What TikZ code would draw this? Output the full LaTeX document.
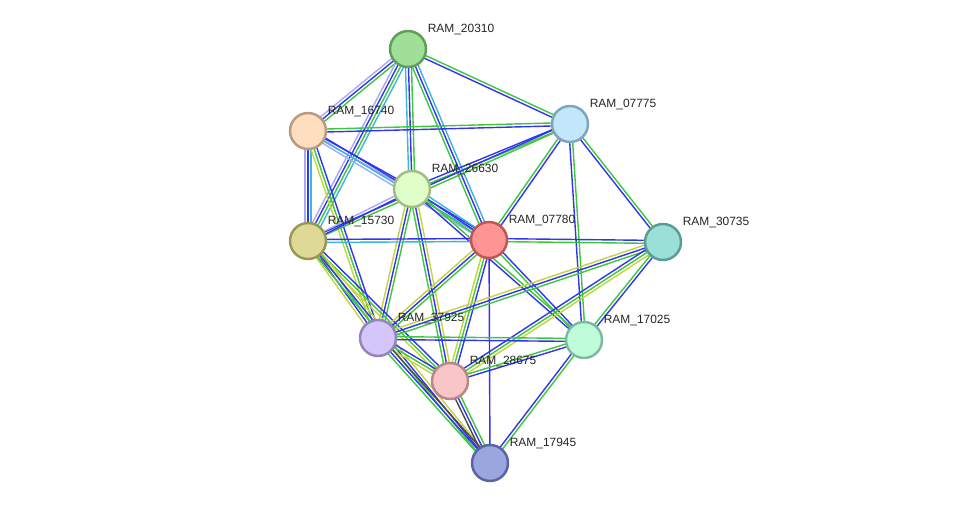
\documentclass[tikz,border=0pt]{standalone}
\usepackage{fontspec}
\setmainfont{Liberation Sans}
\usepackage{xcolor}
\usetikzlibrary{calc,backgrounds}
% evidence colours
\definecolor{nbhd} {HTML}{3CC83C}
\definecolor{cooc} {HTML}{3434F0}
\definecolor{dbase}{HTML}{3CB4DC}
\definecolor{tmine}{HTML}{C4D43C}
\definecolor{coex} {HTML}{4A4A4A}
\definecolor{homol}{HTML}{A8A8F4}
% node colours
\definecolor{f20310}{HTML}{9FDF98} \definecolor{d20310}{HTML}{5E9E58}
\definecolor{f16740}{HTML}{FFDDBF} \definecolor{d16740}{HTML}{B89A80}
\definecolor{f07775}{HTML}{C2E6FA} \definecolor{d07775}{HTML}{7EA4BE}
\definecolor{f26630}{HTML}{E0FEC8} \definecolor{d26630}{HTML}{A0BE84}
\definecolor{f15730}{HTML}{DEDA96} \definecolor{d15730}{HTML}{9A9658}
\definecolor{f07780}{HTML}{FF9494} \definecolor{d07780}{HTML}{BE5656}
\definecolor{f30735}{HTML}{9AE0D6} \definecolor{d30735}{HTML}{5A9C94}
\definecolor{f37925}{HTML}{D4C6FA} \definecolor{d37925}{HTML}{9484BC}
\definecolor{f17025}{HTML}{BEFCDA} \definecolor{d17025}{HTML}{80BA9E}
\definecolor{f28675}{HTML}{F8C6C6} \definecolor{d28675}{HTML}{B88888}
\definecolor{f17945}{HTML}{9AA6DE} \definecolor{d17945}{HTML}{5A64A0}
% parallel evidence lines between two nodes
\newcommand{\lnk}[3]{%
  \foreach \c [count=\i] in {#3} {\xdef\lnkn{\i}}%
  \foreach \c [count=\i] in {#3} {%
    \pgfmathsetlengthmacro\lnkoff{(\i-(\lnkn+1)/2)*1.7pt}%
    \draw[edge, \c] ($(#1.center)!\lnkoff!90:(#2.center)$) -- ($(#2.center)!\lnkoff!-90:(#1.center)$);
  }}

\begin{document}
\begin{tikzpicture}[x=0.02cm, y=-0.02cm,
  prot/.style={circle, minimum size=0.72cm, inner sep=0pt, line width=1.4pt},
  lbl/.style={font=\fontsize{6.8}{8}\selectfont, text=black!85, label distance=0pt, yshift=-0.11cm},
  edge/.style={line width=0.8pt}]
 \useasboundingbox (0,0) rectangle (976,509);
 \node[prot, fill=f20310, draw=d20310, label={[lbl]above right:RAM\_20310}] (n20310) at (408,49)  {};
 \node[prot, fill=f16740, draw=d16740, label={[lbl]above right:RAM\_16740}] (n16740) at (308,131) {};
 \node[prot, fill=f07775, draw=d07775, label={[lbl]above right:RAM\_07775}] (n07775) at (570,124) {};
 \node[prot, fill=f26630, draw=d26630, label={[lbl]above right:RAM\_26630}] (n26630) at (412,189) {};
 \node[prot, fill=f15730, draw=d15730, label={[lbl]above right:RAM\_15730}] (n15730) at (308,241) {};
 \node[prot, fill=f07780, draw=d07780, label={[lbl]above right:RAM\_07780}] (n07780) at (489,240) {};
 \node[prot, fill=f30735, draw=d30735, label={[lbl]above right:RAM\_30735}] (n30735) at (663,242) {};
 \node[prot, fill=f37925, draw=d37925, label={[lbl]above right:RAM\_37925}] (n37925) at (378,338) {};
 \node[prot, fill=f17025, draw=d17025, label={[lbl]above right:RAM\_17025}] (n17025) at (584,340) {};
 \node[prot, fill=f28675, draw=d28675, label={[lbl]above right:RAM\_28675}] (n28675) at (450,381) {};
 \node[prot, fill=f17945, draw=d17945, label={[lbl]above right:RAM\_17945}] (n17945) at (490,463) {};
 \begin{scope}[on background layer]
  \lnk{n20310}{n07775}{cooc,nbhd}
  \lnk{n20310}{n16740}{homol,cooc,nbhd}
  \lnk{n20310}{n15730}{homol,cooc,nbhd,dbase}
  \lnk{n20310}{n26630}{dbase,cooc,nbhd}
  \lnk{n20310}{n07780}{nbhd,cooc,dbase}
  \lnk{n16740}{n07775}{cooc,nbhd}
  \lnk{n16740}{n26630}{homol,cooc}
  \lnk{n16740}{n07780}{homol,dbase,cooc}
  \lnk{n16740}{n15730}{homol,cooc,dbase}
  \lnk{n16740}{n37925}{tmine,nbhd,cooc}
  \lnk{n07775}{n26630}{cooc,nbhd}
  \lnk{n07775}{n15730}{cooc,nbhd}
  \lnk{n07775}{n07780}{nbhd,cooc}
  \lnk{n07775}{n30735}{cooc,nbhd}
  \lnk{n07775}{n17025}{cooc,nbhd}
  \lnk{n26630}{n15730}{homol,cooc}
  \lnk{n26630}{n07780}{nbhd,cooc,dbase}
  \lnk{n26630}{n37925}{tmine,cooc,nbhd}
  \lnk{n26630}{n28675}{nbhd,cooc,tmine}
  \lnk{n26630}{n17025}{cooc,nbhd}
  \lnk{n15730}{n07780}{dbase,cooc}
  \lnk{n15730}{n37925}{tmine,cooc,nbhd}
  \lnk{n15730}{n28675}{tmine,nbhd,cooc}
  \lnk{n15730}{n17945}{nbhd,cooc,tmine}
  \lnk{n07780}{n30735}{nbhd,cooc}
  \lnk{n07780}{n37925}{tmine,cooc,nbhd}
  \lnk{n07780}{n17025}{nbhd,cooc}
  \lnk{n07780}{n28675}{tmine,nbhd,cooc}
  \lnk{n07780}{n17945}{cooc}
  \lnk{n30735}{n37925}{tmine,cooc,nbhd}
  \lnk{n30735}{n28675}{cooc,nbhd,tmine}
  \lnk{n30735}{n17025}{nbhd,cooc}
  \lnk{n37925}{n17025}{cooc,nbhd}
  \lnk{n37925}{n28675}{tmine,nbhd,cooc}
  \lnk{n37925}{n17945}{nbhd,cooc,coex}
  \lnk{n28675}{n17025}{cooc,nbhd}
  \lnk{n28675}{n17945}{coex,cooc,nbhd}
  \lnk{n17025}{n17945}{cooc,nbhd}
 \end{scope}
\end{tikzpicture}
\end{document}
